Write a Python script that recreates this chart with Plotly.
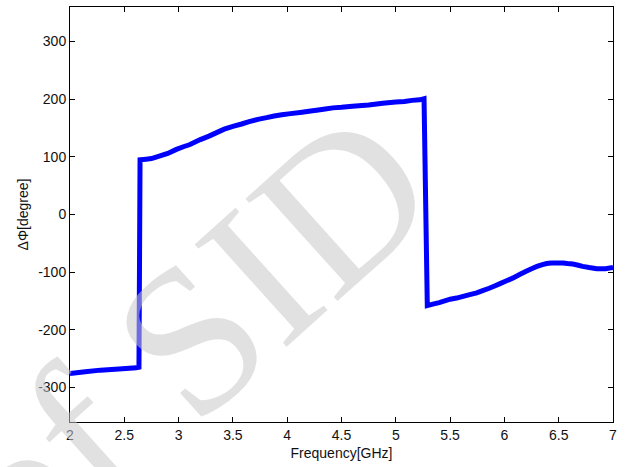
import plotly.graph_objects as go

freq = [2.0, 2.14, 2.28, 2.45, 2.61, 2.635, 2.645, 2.7, 2.75, 2.8, 2.85, 2.9, 2.98, 3.05, 3.1, 3.2, 3.28, 3.35, 3.42, 3.5, 3.58, 3.65, 3.73, 3.81, 3.88, 3.95, 4.03, 4.12, 4.2, 4.27, 4.35, 4.42, 4.5, 4.6, 4.75, 4.88, 5.0, 5.08, 5.15, 5.22, 5.26,
        5.29, 5.35, 5.4, 5.5, 5.56, 5.62, 5.68, 5.745, 5.8, 5.86, 5.91, 5.96, 6.02, 6.08, 6.14, 6.205, 6.25, 6.3, 6.35, 6.39, 6.43, 6.47, 6.51, 6.54, 6.58, 6.63, 6.68, 6.72, 6.78, 6.85, 6.93, 7.0]
phase = [-276, -273, -270, -268, -266, -265, 95, 96, 97, 100, 103, 106, 113, 118, 121, 130, 136, 142, 148, 153, 157, 161, 165, 168, 171, 173, 175, 177, 179, 181, 183, 185, 186, 188, 190, 193, 195, 196, 198, 199, 201,
         -158, -155, -153, -147, -145, -142, -139, -136, -132, -128, -124, -120, -115, -110, -104, -98, -94, -90, -87, -85, -84, -84, -84, -84, -85, -86, -88, -90, -92, -94, -94, -92]

x_ticks = [2, 2.5, 3, 3.5, 4, 4.5, 5, 5.5, 6, 6.5, 7]
x_tick_text = ["2", "2.5", "3", "3.5", "4", "4.5", "5", "5.5", "6", "6.5", "7"]
y_ticks = [-300, -200, -100, 0, 100, 200, 300]
y_tick_text = ["-300", "-200", "-100", "0", "100", "200", "300"]

FONT = "Liberation Sans, Arial, sans-serif"

fig = go.Figure()
fig.add_trace(go.Scatter(x=freq, y=phase, mode="lines",
                         line=dict(color="#0000ff", width=5, simplify=False),
                         showlegend=False))

axis_common = dict(showgrid=False, zeroline=False, showline=True, linecolor="#000000", linewidth=1,
                   mirror="ticks", ticks="inside", ticklen=5, tickcolor="#000000",
                   tickfont=dict(family=FONT, size=14, color="#111111"))

fig.update_xaxes(range=[2, 7], tickvals=x_ticks, ticktext=x_tick_text,
                 title=dict(text="Frequency[GHz]", font=dict(family=FONT, size=14, color="#111111"), standoff=6),
                 **axis_common)
fig.update_yaxes(range=[-360, 360], tickvals=y_ticks, ticktext=y_tick_text,
                 title=dict(text="ΔΦ[degree]", font=dict(family=FONT, size=14, color="#111111"), standoff=6),
                 **axis_common)

fig.add_annotation(text="of SID", xref="paper", yref="paper", x=0.2173, y=0.1976,
                   xanchor="center", yanchor="middle",
                   showarrow=False, textangle=-42,
                   font=dict(family="Liberation Serif, DejaVu Serif, serif", size=210,
                             color="rgba(200,200,200,0.55)"))

fig.update_layout(width=629, height=467, margin=dict(l=70, r=16, t=7, b=45, autoexpand=False),
                  plot_bgcolor="white", paper_bgcolor="white")

fig.write_html("out.html", config={"displayModeBar": False},
               post_script="document.body.style.margin='0';document.body.style.overflow='hidden';")
